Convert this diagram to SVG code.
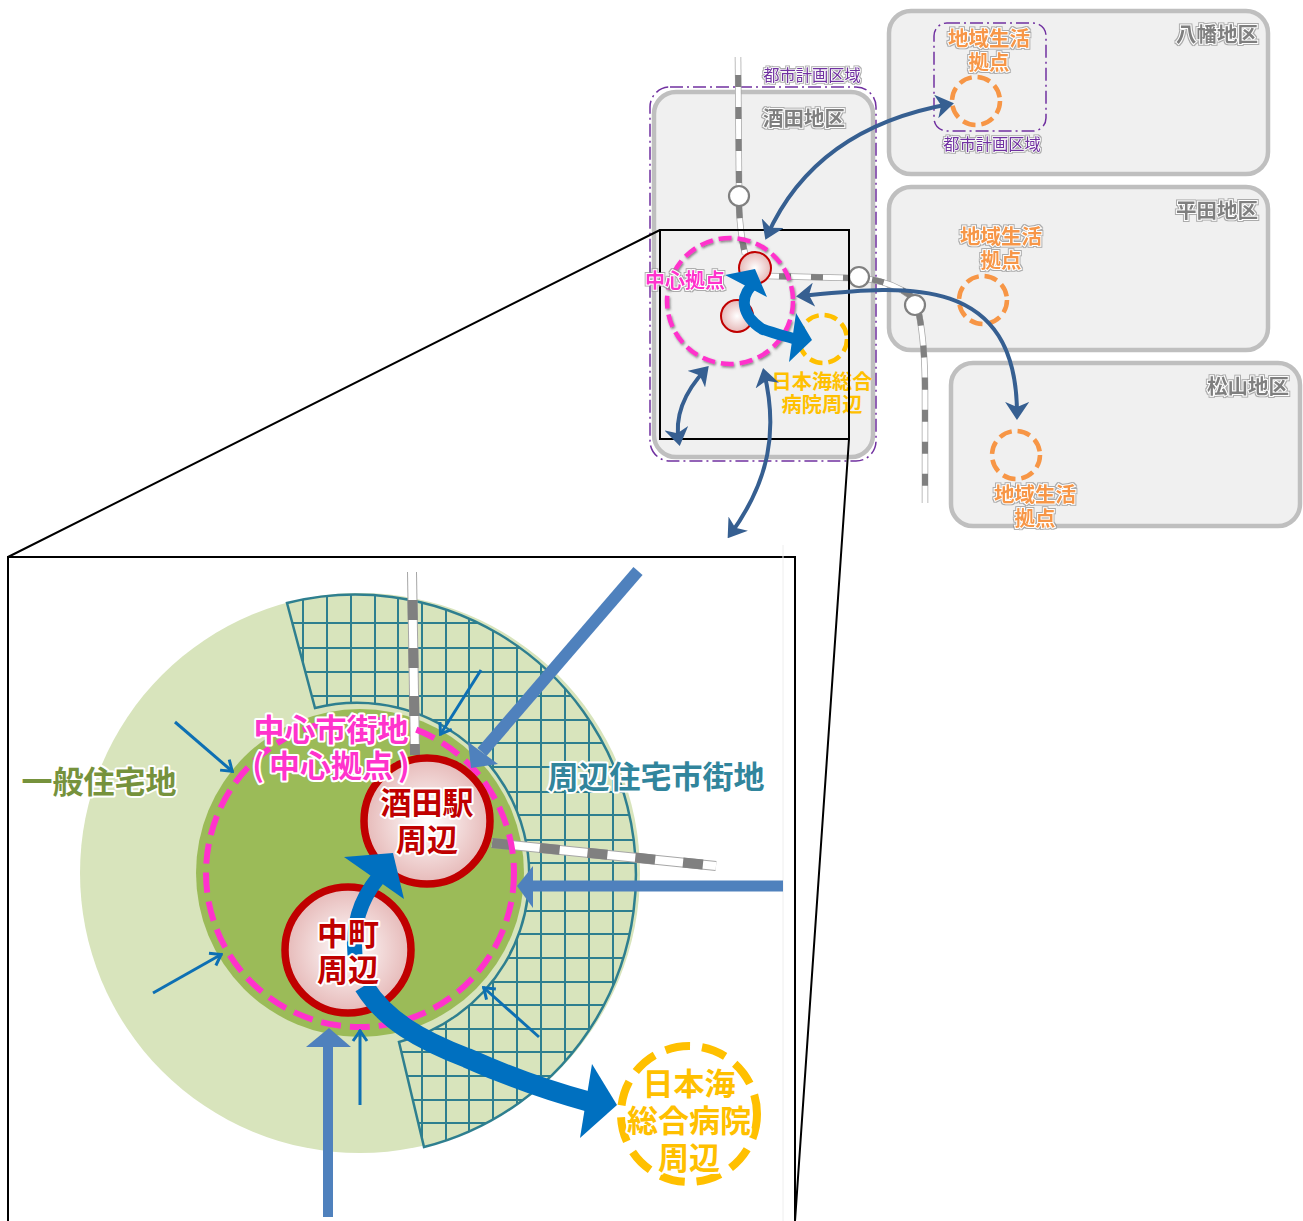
<svg xmlns="http://www.w3.org/2000/svg" width="1303" height="1221" viewBox="0 0 1303 1221">
<style>
text{font-family:"Noto Sans CJK JP","Noto Sans CJK SC",sans-serif;text-anchor:middle;font-weight:700}
.box{fill:#f0f0f0;stroke:#bfbfbf;stroke-width:4.5}
.plan{fill:none;stroke:#7030a0;stroke-width:1.5;stroke-dasharray:13 4 2 4}
.t-gray{font-size:20.5px;fill:#7f7f7f;stroke:#fff;stroke-width:2;paint-order:stroke;filter:url(#halo)}
.t-plan{font-size:16.3px;fill:#7030a0;font-weight:400;stroke:#fff;stroke-width:1.5;paint-order:stroke;filter:url(#halo)}
.t-or{font-size:20.5px;fill:#f79646;stroke:#fff;stroke-width:2;paint-order:stroke;filter:url(#halo)}
.t-pk{font-size:20px;fill:#ff33cc;stroke:#fff;stroke-width:2;paint-order:stroke;filter:url(#halo)}
.t-ye{font-size:20.2px;fill:#ffc000}
.dash{fill:none;stroke-width:4.5;stroke-dasharray:13 6}
.station{fill:#fff;stroke:#808080;stroke-width:2.2}
.ro{fill:none;stroke:#a6a6a6;stroke-width:6.5}
.rw{fill:none;stroke:#fff;stroke-width:5}
.rd{fill:none;stroke:#808080;stroke-width:6;stroke-dasharray:12 20}
.link{fill:none;stroke:#365f91;stroke-width:4;marker-start:url(#h);marker-end:url(#h)}
.hub{fill:url(#rg);stroke:#c00000;stroke-width:2}
.big{fill:#0070c0}
.Ro{fill:none;stroke:#a6a6a6;stroke-width:10}
.Rw{fill:none;stroke:#fff;stroke-width:8}
.Rd{fill:none;stroke:#808080;stroke-width:10;stroke-dasharray:20 28}
.in{fill:none;stroke:#4f81bd}
.thin{fill:none;stroke:#0f6fb3;stroke-width:3;marker-end:url(#v)}
.grid{fill:none;stroke:#2f7f8f;stroke-width:2}
.t-in{font-size:31px;stroke:#fff;stroke-width:4;stroke-linejoin:round;paint-order:stroke}
.frame{fill:none;stroke:#000;stroke-width:2}
</style>
<defs>
<filter id="halo" x="-10%" y="-20%" width="120%" height="140%"><feMorphology in="SourceAlpha" operator="dilate" radius="0.8" result="d"/><feGaussianBlur in="d" stdDeviation="0.4" result="b"/><feFlood flood-color="#8c8c8c" flood-opacity="0.7"/><feComposite in2="b" operator="in" result="s"/><feMerge><feMergeNode in="s"/><feMergeNode in="SourceGraphic"/></feMerge></filter>
<filter id="sh" x="-20%" y="-20%" width="140%" height="140%"><feDropShadow dx="1" dy="1.5" stdDeviation="1" flood-color="#555" flood-opacity="0.7"/></filter>
<filter id="soft" x="-2%" y="-2%" width="104%" height="104%"><feGaussianBlur stdDeviation="0.5"/></filter>
<radialGradient id="rg"><stop offset="0" stop-color="#fff"/><stop offset="1" stop-color="#e6b9b8"/></radialGradient>
<marker id="h" viewBox="0 0 18 24" refX="14" refY="12" markerWidth="18" markerHeight="24" markerUnits="userSpaceOnUse" orient="auto-start-reverse"><path d="M0,0 L18,12 L0,24 L5,12 Z" fill="#365f91"/></marker>
<marker id="v" viewBox="0 0 14 18" refX="13" refY="9" markerWidth="14" markerHeight="18" markerUnits="userSpaceOnUse" orient="auto"><path d="M2,2 L12,9 L2,16" fill="none" stroke="#0f6fb3" stroke-width="3"/></marker>
<clipPath id="sector"><path d="M287,603 A280,280 0 0 1 424,1147 L399,1042 A172,172 0 0 0 315,708 Z"/></clipPath>
</defs>

<g id="district-sakata"><rect class="box" x="654" y="92" width="219" height="365" rx="22"/><text class="t-gray" x="804" y="126">酒田地区</text></g>
<g id="district-yawata"><rect class="box" x="889" y="11" width="379" height="163" rx="22"/><text class="t-gray" x="1217" y="42">八幡地区</text></g>
<g id="district-hirata"><rect class="box" x="889" y="187" width="379" height="163" rx="22"/><text class="t-gray" x="1217" y="218">平田地区</text></g>
<g id="district-matsuyama"><rect class="box" x="951" y="363" width="349" height="163" rx="22"/><text class="t-gray" x="1248" y="394">松山地区</text></g>

<g id="plan-area-main"><rect class="plan" x="650" y="87" width="226" height="374" rx="20"/><text class="t-plan" x="812" y="81">都市計画区域</text></g>
<g id="plan-area-yawata"><rect class="plan" x="934" y="23" width="112" height="108" rx="13"/><text class="t-plan" x="992" y="150">都市計画区域</text></g>

<g id="railway">
<path class="ro" d="M738,57 L739,186"/><path class="rw" d="M738,57 L739,186"/><path class="rd" stroke-dashoffset="14" d="M738,57 L739,186"/>
<path class="ro" d="M739,206 Q740,232 745,254"/><path class="rw" d="M739,206 Q740,232 745,254"/><path class="rd" stroke-dashoffset="0" d="M739,206 Q740,232 745,254"/>
<path class="ro" d="M768,276 L850,278"/><path class="rw" d="M768,276 L850,278"/><path class="rd" stroke-dashoffset="21" d="M768,276 L850,278"/>
<path class="ro" d="M868,279 Q895,283 912,297"/><path class="rw" d="M868,279 Q895,283 912,297"/><path class="rd" stroke-dashoffset="28" d="M868,279 Q895,283 912,297"/>
<path class="ro" d="M919,314 Q925,345 925,390 L925,503"/><path class="rw" d="M919,314 Q925,345 925,390 L925,503"/><path class="rd" stroke-dashoffset="0" d="M919,314 Q925,345 925,390 L925,503"/>
<circle class="station" cx="739" cy="196" r="10"/><circle class="station" cx="859" cy="277" r="10"/><circle class="station" cx="915" cy="305" r="10"/>
</g>

<g id="hub-central">
<circle class="hub" cx="755" cy="268" r="16"/><circle class="hub" cx="737" cy="316" r="16"/>
<circle class="dash" cx="730" cy="301" r="63" stroke="#ff33cc" filter="url(#sh)"/>
</g>
<g id="hub-hospital"><circle class="dash" cx="823" cy="339" r="24" stroke="#ffc000"/><text class="t-ye" x="822" y="389">日本海総合</text><text class="t-ye" x="822" y="412">病院周辺</text></g>
<g id="hub-yawata"><circle class="dash" cx="976" cy="101" r="24" stroke="#f79646"/><text class="t-or" x="989" y="46">地域生活</text><text class="t-or" x="989" y="70">拠点</text></g>
<g id="hub-hirata"><circle class="dash" cx="983" cy="300" r="24" stroke="#f79646"/><text class="t-or" x="1001" y="244">地域生活</text><text class="t-or" x="1001" y="268">拠点</text></g>
<g id="hub-matsuyama"><circle class="dash" cx="1016" cy="455" r="24" stroke="#f79646"/><text class="t-or" x="1035" y="502">地域生活</text><text class="t-or" x="1035" y="526">拠点</text></g>

<g id="zoom-frame">
<rect class="frame" x="660" y="230" width="189" height="209"/>
<path class="frame" d="M660,230 L8,557 M849,439 L795,1221 M8,1221 L8,557 L795,557 L795,1221"/>
<path d="M783,545 L783,1221" fill="none" stroke="#eeeeee" stroke-width="1"/>
</g>

<g id="connectors">
<path class="link" d="M950,104 Q815,128 767,236"/>
<path class="link" d="M800,296 C900,286 1018,270 1017,416"/>
<path class="link" d="M706,369 Q672,405 679,442"/>
<path class="link" d="M764,372 C778,430 770,480 730,535"/>
<path d="M755,283 C738,296 742,316 762,329 C775,334 785,336 798,340" fill="none" stroke="#0070c0" stroke-width="11"/>
<path class="big" d="M725,275 L755,269 L767,297 Z M796,313 L812,340 L789,362 Z"/>
</g>
<text id="label-central" class="t-pk" x="685" y="288">中心拠点</text>

<g id="inset-map" filter="url(#soft)">
<circle cx="360" cy="873" r="280" fill="#d8e4bc"/>
<path d="M287,603 A280,280 0 0 1 424,1147 L399,1042 A172,172 0 0 0 315,708 Z" fill="#d8e4bc"/>
<g clip-path="url(#sector)">
<path class="grid" d="M303,590V1160M327,590V1160M351,590V1160M375,590V1160M398,590V1160M422,590V1160M446,590V1160M469,590V1160M493,590V1160M517,590V1160M541,590V1160M565,590V1160M589,590V1160M613,590V1160M637,590V1160M280,623H650M280,648H650M280,672H650M280,696H650M280,720H650M280,743H650M280,767H650M280,792H650M280,815H650M280,840H650M280,863H650M280,887H650M280,911H650M280,934H650M280,958H650M280,982H650M280,1005H650M280,1029H650M280,1052H650M280,1076H650M280,1100H650M280,1123H650"/>
</g>
<path d="M287,603 A280,280 0 0 1 424,1147 L399,1042 A172,172 0 0 0 315,708 Z" fill="none" stroke="#2f7f8f" stroke-width="2.5"/>
<circle cx="360" cy="873" r="164" fill="#9bbb59"/>
<path class="Ro" d="M412,572 L415,755"/><path class="Rw" d="M412,572 L415,755"/><path class="Rd" stroke-dashoffset="20" d="M412,572 L415,755"/>
<path class="Ro" d="M492,843 L716,866"/><path class="Rw" d="M492,843 L716,866"/><path class="Rd" d="M492,843 L708,865"/>
<circle cx="360" cy="873" r="154" fill="none" stroke="#ff33cc" stroke-width="6" stroke-dasharray="20 9"/>
<path class="in" stroke-width="12" d="M638,571 L482,752"/><path fill="#4f81bd" d="M468,742 L498,764 L471,768 Z"/>
<path class="in" stroke-width="11" d="M783,886 L530,886"/><path fill="#4f81bd" d="M517,886 L533,866 L533,908 Z"/>
<path class="in" stroke-width="10" d="M328,1217 L328,1045"/><path fill="#4f81bd" d="M329,1028 L306,1047 L351,1047 Z"/>
<path class="thin" d="M175,722 L233,772"/><path class="thin" d="M481,670 L440,735"/><path class="thin" d="M153,993 L222,954"/><path class="thin" d="M539,1037 L483,987"/><path class="thin" d="M360,1105 L360,1030"/>
<circle cx="427" cy="821" r="63" fill="url(#rg)" stroke="#c00000" stroke-width="7.5"/>
<circle cx="348" cy="950" r="63" fill="url(#rg)" stroke="#c00000" stroke-width="7.5"/>
<path d="M355,955 C352,925 360,900 378,878" fill="none" stroke="#0070c0" stroke-width="15"/><path class="big" d="M344,857 L393,853 L404,899 Z"/>
<path d="M364,986 C385,1020 420,1040 467,1058 C505,1075 545,1090 590,1102" fill="none" stroke="#0070c0" stroke-width="20"/><path class="big" d="M592,1064 L617,1105 L580,1138 Z"/>
<circle cx="689" cy="1114" r="68" fill="none" stroke="#ffc000" stroke-width="8" stroke-dasharray="25 12"/>
</g>

<g id="inset-labels">
<text class="t-in" x="99" y="793" fill="#76923c">一般住宅地</text>
<text class="t-in" x="656" y="788" fill="#31859c">周辺住宅市街地</text>
<text class="t-in" x="331" y="741" fill="#ff33cc">中心市街地</text>
<text class="t-in" x="331" y="777" fill="#ff33cc">(<tspan dx="5">中心拠点</tspan><tspan dx="5">)</tspan></text>
<text class="t-in" x="427" y="814" fill="#c00000">酒田駅</text>
<text class="t-in" x="427" y="851" fill="#c00000">周辺</text>
<text class="t-in" x="348" y="945" fill="#c00000">中町</text>
<text class="t-in" x="348" y="981" fill="#c00000">周辺</text>
<text class="t-in" x="689" y="1095" fill="#ffc000">日本海</text>
<text class="t-in" x="689" y="1132" fill="#ffc000">総合病院</text>
<text class="t-in" x="689" y="1169" fill="#ffc000">周辺</text>
</g>
</svg>
